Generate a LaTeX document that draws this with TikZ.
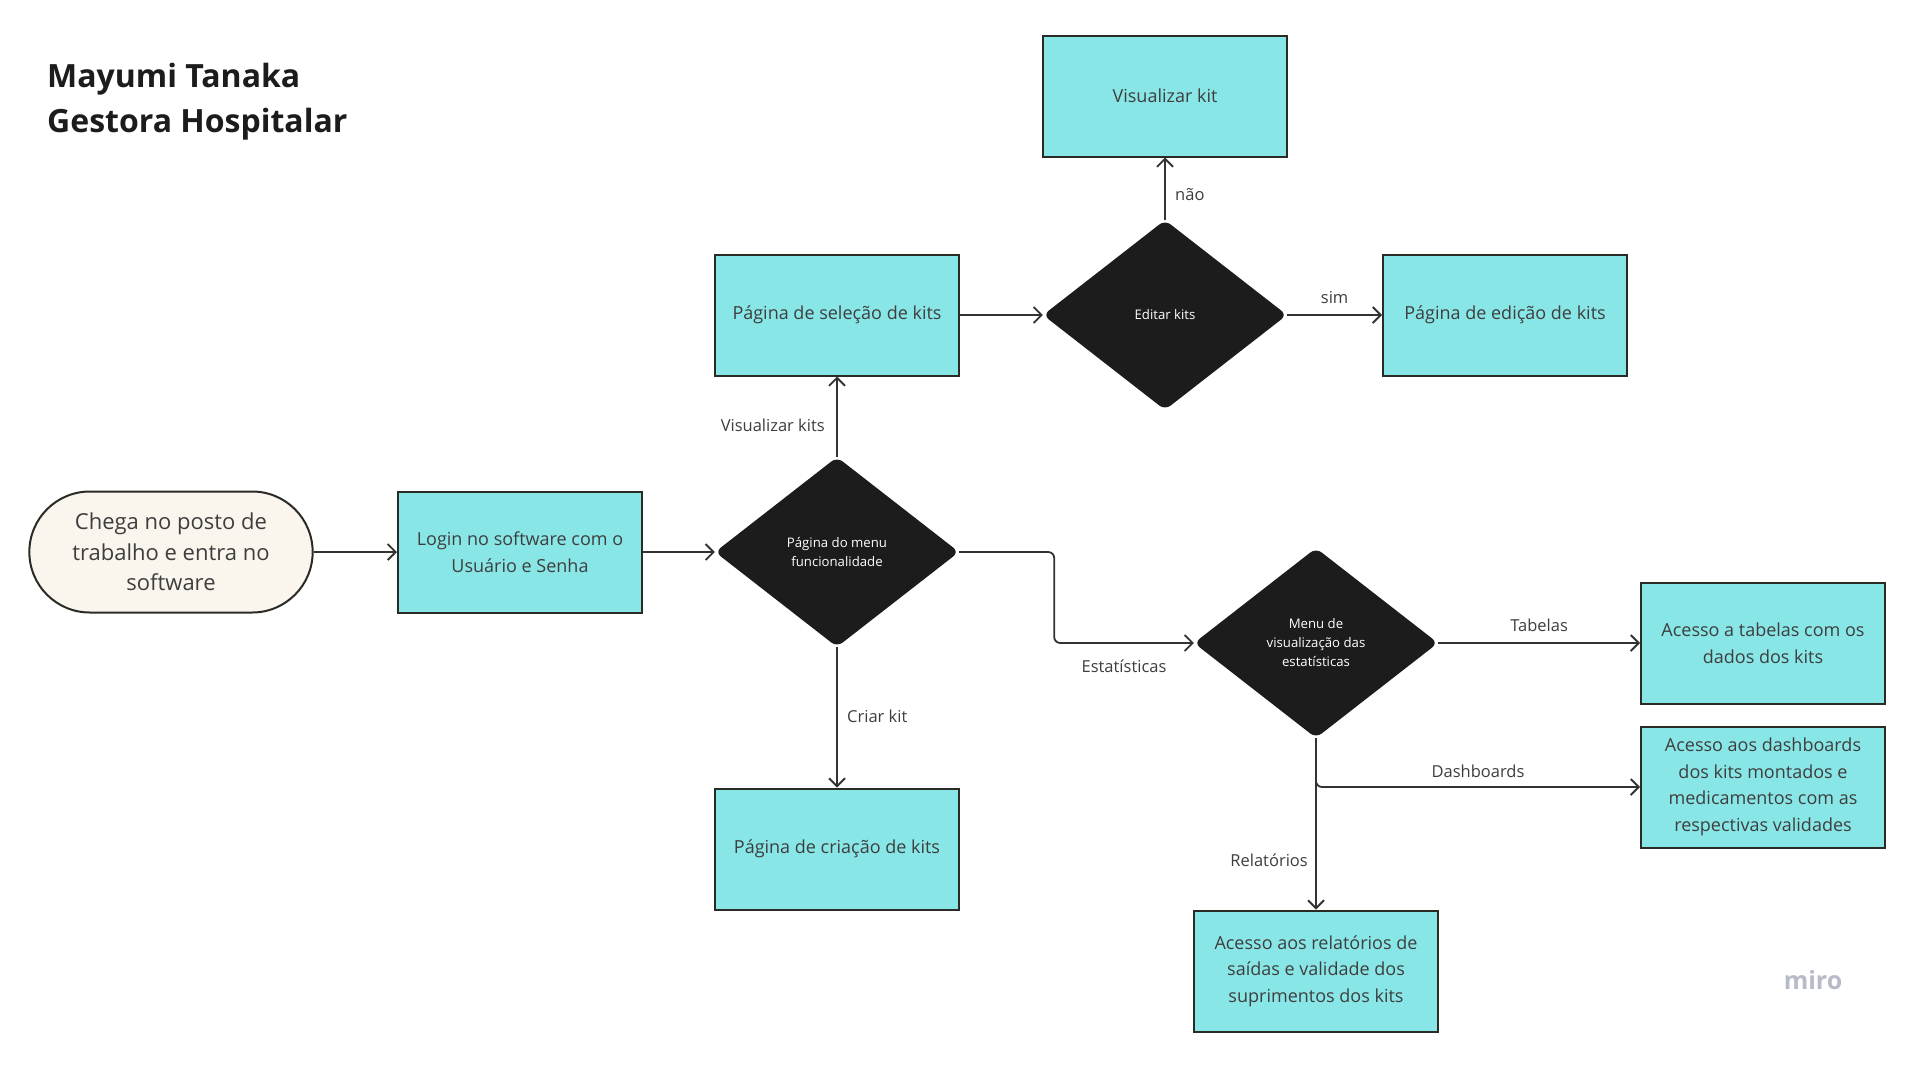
\documentclass[tikz,border=0pt]{standalone}
\usepackage{fontspec}
\setmainfont{Open Sans}
\usetikzlibrary{shapes.geometric,shapes.misc,arrows.meta}

\definecolor{kitcyan}{HTML}{89E6E7}
\definecolor{boxline}{HTML}{2B2B26}
\definecolor{termfill}{HTML}{FAF6EE}
\definecolor{menublack}{HTML}{1C1C1C}
\definecolor{textgray}{HTML}{3E3E3E}
\definecolor{linegray}{HTML}{333333}
\definecolor{mirogray}{HTML}{B7BAC9}

\tikzset{
  pagebox/.style={draw=boxline, line width=2pt, fill=kitcyan, minimum width=244pt,
    minimum height=121pt, text=textgray, align=center, font=\fontsize{18}{26.5}\selectfont},
  startbox/.style={rounded rectangle, draw=boxline, line width=2pt, fill=termfill,
    minimum width=290pt, minimum height=121pt, text=textgray, align=center,
    font=\fontsize{22}{30.6}\selectfont},
  decision/.style={diamond, fill=menublack, minimum width=244pt, minimum height=190pt,
    inner sep=0pt, rounded corners=7pt, text=white, align=center,
    font=\fontsize{13.2}{19}\selectfont},
  flow/.style={draw=linegray, line width=1.8pt, -{Straight Barb[length=8pt,width=16pt]}},
  edgelabel/.style={text=textgray, font=\fontsize{16.5}{20}\selectfont}
}

\begin{document}
\begin{tikzpicture}[x=1pt,y=-1pt]
  \fill[white] (0,0) rectangle (1920,1080);

  \node[anchor=north west, inner sep=0pt, align=left, text=menublack,
    font=\bfseries\fontsize{32}{45}\selectfont] (title) at (47,63) {Mayumi Tanaka\\Gestora Hospitalar};

  % first row
  \node[pagebox] (viskit) at (1165,96) {Visualizar kit};
  \node[pagebox] (selecao) at (837,315) {Página de seleção de kits};
  \node[decision] (editar) at (1165,315) {Editar kits};
  \node[pagebox] (edicao) at (1505,315) {Página de edição de kits};

  % main line
  \node[startbox] (start) at (171,552) {Chega no posto de\\trabalho e entra no\\software};
  \node[pagebox] (login) at (520,552) {Login no software com o\\Usuário e Senha};
  \node[decision] (menu) at (837,552) {Página do menu\\funcionalidade};
  \node[pagebox] (criacao) at (837,849) {Página de criação de kits};

  % statistics
  \node[decision] (stats) at (1316,643) {Menu de\\visualização das\\estatísticas};
  \node[pagebox] (tabelas) at (1763,643) {Acesso a tabelas com os\\dados dos kits};
  \node[pagebox] (dash) at (1763,787) {Acesso aos dashboards\\dos kits montados e\\medicamentos com as\\respectivas validades};
  \node[pagebox] (rel) at (1316,971) {Acesso aos relatórios de\\saídas e validade dos\\suprimentos dos kits};

  \node[text=mirogray, font=\bfseries\fontsize{25}{28}\selectfont] (miro) at (1813,980) {miro};

  \draw[flow] (start) -- (login);
  \draw[flow] (login) -- (menu);
  \draw[flow] (menu) -- node[edgelabel, left=8pt, pos=0.39] {Visualizar kits} (selecao);
  \draw[flow] (menu) -- node[edgelabel, right=6pt, pos=0.49] {Criar kit} (criacao);
  \draw[flow, rounded corners=6pt] (menu.east) -- ++(95,0) |- node[edgelabel, below=13pt, pos=0.75] {Estatísticas} (stats);
  \draw[flow] (selecao) -- (editar);
  \draw[flow] (editar) -- node[edgelabel, right=6pt, pos=0.4] {não} (viskit);
  \draw[flow] (editar) -- node[edgelabel, above=7pt] {sim} (edicao);
  \draw[flow] (stats) -- node[edgelabel, above=7pt] {Tabelas} (tabelas);
  \draw[flow, rounded corners=6pt] (stats) |- node[edgelabel, above=5pt, pos=0.75] {Dashboards} (dash);
  \draw[flow] (stats) -- node[edgelabel, left=4pt, pos=0.71] {Relatórios} (rel);
\end{tikzpicture}
\end{document}
